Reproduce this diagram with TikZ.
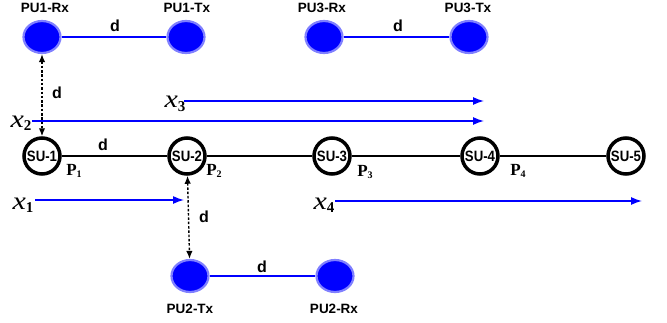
\documentclass[tikz,border=0pt]{standalone}
\usepackage{fontspec}
\setmainfont{Liberation Serif}
\setsansfont{Liberation Sans}
\usetikzlibrary{arrows.meta,shapes.geometric}
\newcommand{\xsub}[1]{\scalebox{1.2}[1]{\fontsize{25}{25}\selectfont\itshape x}\raisebox{-0.75ex}{\fontsize{15}{15}\selectfont\bfseries #1}}
\newcommand{\psub}[1]{{\fontsize{17}{17}\selectfont\bfseries P}\raisebox{-0.5ex}{\fontsize{10}{10}\selectfont\bfseries #1}}
\begin{document}
\begin{tikzpicture}[x=1pt,y=-1pt,
 pu/.style={ellipse, fill=blue, draw=blue!50!white, line width=2.2pt, minimum width=37pt, minimum height=32pt, inner sep=0pt},
 su/.style={circle, fill=white, draw=black, line width=3.5pt, minimum size=36pt, inner sep=0pt, font=\sffamily\bfseries\fontsize{15}{15}\selectfont},
 lbl/.style={font=\sffamily\bfseries\fontsize{13.5}{14}\selectfont, inner sep=0pt},
 dl/.style={font=\sffamily\bfseries\fontsize{16}{16}\selectfont, inner sep=0pt},
 xl/.style={inner sep=0pt},
 link/.style={draw=blue, line width=2pt},
 flow/.style={draw=blue, line width=1.4pt, -{Latex[length=11pt,width=8pt]}},
 gap/.style={black, line width=1.4pt, dash pattern=on 2.5pt off 1.8pt, {Latex[length=8pt,width=6.5pt]}-{Latex[length=8pt,width=6.5pt]}}
]
\useasboundingbox (0,0) rectangle (667,322);

% primary users
\node[pu] (pu1r) at (42,37) {};
\node[pu] (pu1t) at (186,37) {};
\node[pu] (pu3r) at (324,37) {};
\node[pu] (pu3t) at (469,37) {};
\node[pu] (pu2t) at (190,276) {};
\node[pu] (pu2r) at (335,276) {};
\draw[link] (pu1r) -- (pu1t);
\draw[link] (pu3r) -- (pu3t);
\draw[link] (pu2t) -- (pu2r);
\node[lbl] (l1r) at (45,8) {PU1-Rx};
\node[lbl] (l1t) at (187,8) {PU1-Tx};
\node[lbl] (l3r) at (322,8) {PU3-Rx};
\node[lbl] (l3t) at (468,8) {PU3-Tx};
\node[lbl] (l2t) at (190,309) {PU2-Tx};
\node[lbl] (l2r) at (334,309) {PU2-Rx};
\node[dl] (d1) at (115,26) {d};
\node[dl] (d3) at (398,26) {d};
\node[dl] (d2) at (262,267) {d};

% secondary users
\node[su] (su1) at (42,156) {\scalebox{0.88}[1]{SU-1}};
\node[su] (su2) at (187,156) {\scalebox{0.88}[1]{SU-2}};
\node[su] (su3) at (332,156) {\scalebox{0.88}[1]{SU-3}};
\node[su] (su4) at (480,156) {\scalebox{0.88}[1]{SU-4}};
\node[su] (su5) at (626,156) {\scalebox{0.88}[1]{SU-5}};
\draw[black, line width=2pt] (su1) -- (su2);
\draw[black, line width=2pt] (su2) -- (su3);
\draw[black, line width=2pt] (su3) -- (su4);
\draw[black, line width=2pt] (su4) -- (su5);
\node[dl] (dsu) at (103,145) {d};
\node[xl] (p1) at (74,171) {\psub{1}};
\node[xl] (p2) at (214,171) {\psub{2}};
\node[xl] (p3) at (365,172) {\psub{3}};
\node[xl] (p4) at (518,171) {\psub{4}};

% distances
\draw[gap] (pu1r) -- (su1);
\node[dl] (dv1) at (57,93) {d};
\draw[gap] (su2) -- (pu2t);
\node[dl] (dv2) at (204,217) {d};

% flows
\coordinate (a3s) at (184,101);
\coordinate (a3e) at (484,101);
\coordinate (a2s) at (32,121);
\coordinate (a2e) at (484,121);
\coordinate (a1s) at (35,200);
\coordinate (a1e) at (184,200);
\coordinate (a4s) at (335,201);
\coordinate (a4e) at (642,201);
\draw[flow] (a3s) -- (a3e);
\draw[flow] (a2s) -- (a2e);
\draw[flow] (a1s) -- (a1e);
\draw[flow] (a4s) -- (a4e);
\node[xl] (x3) at (175,104) {\xsub{3}};
\node[xl] (x2) at (21,123) {\xsub{2}};
\node[xl] (x1) at (23,205) {\xsub{1}};
\node[xl] (x4) at (324,205) {\xsub{4}};
\end{tikzpicture}
\end{document}
